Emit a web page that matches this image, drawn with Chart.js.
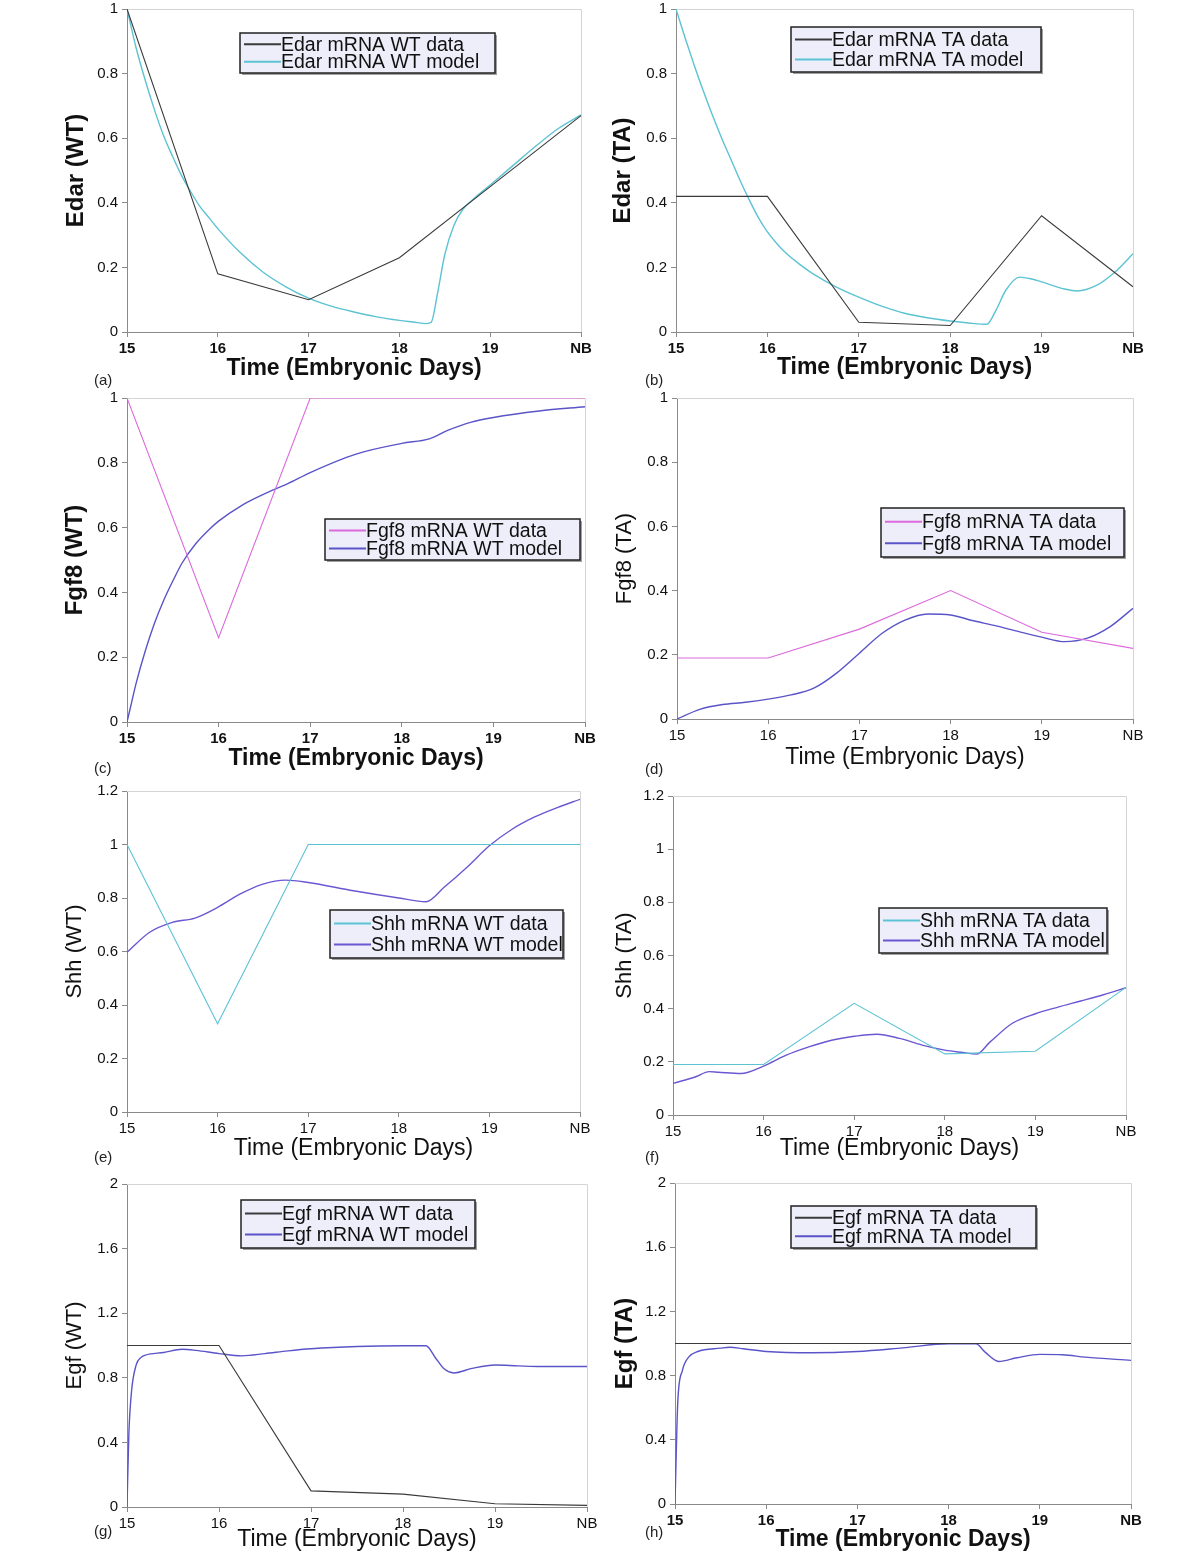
<!DOCTYPE html>
<html>
<head>
<meta charset="utf-8">
<script src="https://cdn.jsdelivr.net/npm/chart.js@4.4.1/dist/chart.umd.min.js"></script>
<style>
  body { margin: 0; background: #fff; width: 1200px; height: 1553px; position: relative; overflow: hidden; font-family: "Liberation Sans", Arial, sans-serif; }
  canvas { position: absolute; }
  .tag { position: absolute; font-size: 15px; color: #222; line-height: 15px; }
</style>
</head>
<body>
<script>
// measured days (15..19 embryonic, 20 = newborn)
const dataDays = [15, 16, 17, 18, 19, 20];

const edarWtData = [1, 0.18, 0.10, 0.23, 0.45, 0.67];
const edarWtModelT = [15, 15.1, 15.2, 15.3, 15.4, 15.5, 15.6, 15.7, 15.8, 15.9, 16, 16.25, 16.5, 16.75, 17, 17.25, 17.5, 17.75, 18, 18.15, 18.3, 18.35, 18.42, 18.5, 18.6, 18.7, 18.85, 19, 19.25, 19.5, 19.75, 20];
const edarWtModel = [1, 0.88, 0.78, 0.69, 0.61, 0.545, 0.485, 0.435, 0.39, 0.355, 0.32, 0.245, 0.185, 0.14, 0.105, 0.08, 0.062, 0.047, 0.036, 0.031, 0.026, 0.03, 0.12, 0.24, 0.33, 0.38, 0.42, 0.455, 0.515, 0.575, 0.63, 0.672];

const edarTaData = [0.42, 0.42, 0.03, 0.02, 0.36, 0.14];
const edarTaModelT = [15, 15.1, 15.2, 15.3, 15.4, 15.5, 15.6, 15.7, 15.8, 15.9, 16, 16.1, 16.2, 16.35, 16.5, 16.75, 17, 17.25, 17.5, 17.75, 18, 18.2, 18.4, 18.5, 18.61, 18.76, 18.88, 19, 19.25, 19.39, 19.6, 19.8, 20];
const edarTaModel = [1, 0.91, 0.825, 0.745, 0.67, 0.60, 0.535, 0.47, 0.41, 0.355, 0.31, 0.275, 0.245, 0.21, 0.18, 0.14, 0.108, 0.08, 0.058, 0.044, 0.034, 0.028, 0.024, 0.067, 0.13, 0.17, 0.165, 0.155, 0.133, 0.127, 0.144, 0.185, 0.242];

const fgf8WtData = [1, 0.26, 1, 1, 1, 1];
const fgf8WtModelT = [15, 15.05, 15.1, 15.2, 15.3, 15.4, 15.5, 15.6, 15.75, 15.9, 16, 16.25, 16.5, 16.75, 17, 17.5, 18, 18.3, 18.5, 18.75, 19, 19.5, 20];
const fgf8WtModel = [0, 0.06, 0.12, 0.22, 0.305, 0.375, 0.435, 0.49, 0.55, 0.595, 0.62, 0.668, 0.704, 0.735, 0.77, 0.827, 0.86, 0.874, 0.9, 0.925, 0.94, 0.96, 0.973];

const fgf8TaData = [0.19, 0.19, 0.28, 0.40, 0.27, 0.22];
const fgf8TaModelT = [15, 15.25, 15.5, 15.75, 16, 16.25, 16.5, 16.75, 17, 17.25, 17.5, 17.75, 18, 18.25, 18.5, 18.75, 19, 19.25, 19.5, 19.75, 20];
const fgf8TaModel = [0, 0.03, 0.045, 0.052, 0.062, 0.075, 0.096, 0.143, 0.205, 0.267, 0.308, 0.327, 0.324, 0.306, 0.29, 0.272, 0.255, 0.241, 0.252, 0.288, 0.345];

const shhWtData = [1, 0.33, 1, 1, 1, 1];
const shhWtModelT = [15, 15.25, 15.5, 15.75, 16, 16.25, 16.5, 16.75, 17, 17.5, 18, 18.3, 18.5, 18.75, 19, 19.25, 19.5, 19.75, 20];
const shhWtModel = [0.597, 0.672, 0.709, 0.725, 0.765, 0.815, 0.852, 0.867, 0.858, 0.827, 0.8, 0.786, 0.84, 0.914, 0.995, 1.057, 1.103, 1.138, 1.169];

const shhTaData = [0.19, 0.19, 0.42, 0.23, 0.24, 0.48];
const shhTaModelT = [15, 15.25, 15.4, 15.5, 15.75, 16, 16.25, 16.5, 16.75, 17, 17.25, 17.5, 17.75, 18, 18.2, 18.35, 18.5, 18.75, 19, 19.25, 19.5, 19.75, 20];
const shhTaModel = [0.119, 0.144, 0.163, 0.161, 0.156, 0.184, 0.225, 0.256, 0.281, 0.296, 0.304, 0.288, 0.263, 0.244, 0.235, 0.229, 0.275, 0.346, 0.381, 0.406, 0.429, 0.4525, 0.479];

const egfWtData = [1, 1, 0.1, 0.08, 0.02, 0.01];
const egfWtModelT = [15, 15.02, 15.05, 15.1, 15.15, 15.2, 15.4, 15.6, 15.75, 16, 16.25, 16.5, 16.75, 17, 17.5, 18, 18.25, 18.35, 18.45, 18.55, 18.75, 19, 19.25, 19.5, 20];
const egfWtModel = [0, 0.45, 0.72, 0.88, 0.925, 0.94, 0.957, 0.977, 0.97, 0.95, 0.936, 0.95, 0.967, 0.98, 0.994, 0.998, 0.998, 0.926, 0.854, 0.83, 0.858, 0.879, 0.874, 0.87, 0.87];

const egfTaData = [1, 1, 1, 1, 1, 1];
const egfTaModelT = [15, 15.03, 15.08, 15.15, 15.25, 15.5, 15.6, 15.75, 16, 16.5, 17, 17.5, 18, 18.3, 18.4, 18.55, 18.75, 19, 19.25, 19.5, 20];
const egfTaModel = [0, 0.63, 0.83, 0.915, 0.95, 0.971, 0.977, 0.967, 0.95, 0.942, 0.95, 0.973, 0.998, 0.998, 0.946, 0.888, 0.911, 0.932, 0.93, 0.915, 0.895];

const FONT = '"Liberation Sans", Arial, sans-serif';
const BLACK = '#3a3a3a';
const CYAN = '#5cc3d3';
const MAGENTA = '#dc6adc';
const BLUE = '#5a54c8';
const PURPLE = '#6a58d2';

function pair(xs, ys) {
  return xs.map((x, i) => ({ x: x, y: ys[i] }));
}

// plot = [left, top, right, bottom] of the plotting area on the page
const panels = [
  { tag: '(a)', tagPos: [94, 372], yTitle: 'Edar (WT)', bold: true, yMax: 1, yStep: 0.2,
    plot: [127, 8, 581, 332], yTitleX: 76, xTitleY: 368, legend: [240, 33, 495, 73],
    series: [['Edar mRNA WT data', dataDays, edarWtData, BLACK, false],
             ['Edar mRNA WT model', edarWtModelT, edarWtModel, CYAN, true]] },
  { tag: '(b)', tagPos: [645, 372], yTitle: 'Edar (TA)', bold: true, yMax: 1, yStep: 0.2,
    plot: [676, 8, 1133, 332], yTitleX: 623, xTitleY: 367, legend: [791, 27, 1041, 72],
    series: [['Edar mRNA TA data', dataDays, edarTaData, BLACK, false],
             ['Edar mRNA TA model', edarTaModelT, edarTaModel, CYAN, true]] },
  { tag: '(c)', tagPos: [94, 760], yTitle: 'Fgf8 (WT)', bold: true, yMax: 1, yStep: 0.2,
    plot: [127, 397, 585, 722], yTitleX: 75, xTitleY: 758, legend: [325, 519, 580, 560],
    series: [['Fgf8 mRNA WT data', dataDays, fgf8WtData, MAGENTA, false],
             ['Fgf8 mRNA WT model', fgf8WtModelT, fgf8WtModel, BLUE, true]] },
  { tag: '(d)', tagPos: [645, 761], yTitle: 'Fgf8 (TA)', bold: false, yMax: 1, yStep: 0.2,
    plot: [677, 397, 1133, 719], yTitleX: 625, xTitleY: 757, legend: [881, 508, 1124, 557],
    series: [['Fgf8 mRNA TA data', dataDays, fgf8TaData, MAGENTA, false],
             ['Fgf8 mRNA TA model', fgf8TaModelT, fgf8TaModel, BLUE, true]] },
  { tag: '(e)', tagPos: [94, 1149], yTitle: 'Shh (WT)', bold: false, yMax: 1.2, yStep: 0.2,
    plot: [127, 790, 580, 1112], yTitleX: 75, xTitleY: 1148, legend: [330, 910, 563, 958],
    series: [['Shh mRNA WT data', dataDays, shhWtData, CYAN, false],
             ['Shh mRNA WT model', shhWtModelT, shhWtModel, PURPLE, true]] },
  { tag: '(f)', tagPos: [645, 1149], yTitle: 'Shh (TA)', bold: false, yMax: 1.2, yStep: 0.2,
    plot: [673, 795, 1126, 1115], yTitleX: 625, xTitleY: 1148, legend: [879, 908, 1107, 953],
    series: [['Shh mRNA TA data', dataDays, shhTaData, CYAN, false],
             ['Shh mRNA TA model', shhTaModelT, shhTaModel, PURPLE, true]] },
  { tag: '(g)', tagPos: [94, 1523], yTitle: 'Egf (WT)', bold: false, yMax: 2, yStep: 0.4,
    plot: [127, 1183, 587, 1507], yTitleX: 75, xTitleY: 1540, legend: [241, 1200, 475, 1248],
    series: [['Egf mRNA WT data', dataDays, egfWtData, BLACK, false],
             ['Egf mRNA WT model', egfWtModelT, egfWtModel, BLUE, true]] },
  { tag: '(h)', tagPos: [645, 1524], yTitle: 'Egf (TA)', bold: true, yMax: 2, yStep: 0.4,
    plot: [675, 1182, 1131, 1504], yTitleX: 625, xTitleY: 1540, legend: [791, 1206, 1036, 1248],
    series: [['Egf mRNA TA data', dataDays, egfTaData, BLACK, false],
             ['Egf mRNA TA model', egfTaModelT, egfTaModel, BLUE, true]] }
];

// light grey top/right frame of the plot area
const framePlugin = {
  id: 'frame',
  beforeDatasetsDraw(chart) {
    const a = chart.chartArea, ctx = chart.ctx;
    ctx.save();
    ctx.strokeStyle = '#d4d4d4';
    ctx.lineWidth = 1;
    ctx.beginPath();
    ctx.moveTo(a.left, a.top + 0.5);
    ctx.lineTo(a.right + 0.5, a.top + 0.5);
    ctx.lineTo(a.right + 0.5, a.bottom);
    ctx.stroke();
    ctx.restore();
  }
};

// boxed legend placed inside the plot
const boxLegendPlugin = {
  id: 'boxLegend',
  afterDraw(chart, args, opts) {
    const ctx = chart.ctx;
    const [x1, y1, x2, y2] = opts.box;
    const w = x2 - x1, h = y2 - y1;
    ctx.save();
    ctx.fillStyle = '#a0a0a0';
    ctx.fillRect(x1 + 2, y1 + 2, w, h);
    ctx.fillStyle = '#eeeefa';
    ctx.fillRect(x1, y1, w, h);
    ctx.strokeStyle = '#222';
    ctx.lineWidth = 1.5;
    ctx.strokeRect(x1, y1, w, h);
    ctx.font = '19.5px ' + FONT;
    ctx.textBaseline = 'middle';
    chart.data.datasets.forEach((ds, i) => {
      const yy = y1 + h * (i === 0 ? 0.28 : 0.72);
      ctx.strokeStyle = ds.borderColor;
      ctx.lineWidth = 2;
      ctx.beginPath();
      ctx.moveTo(x1 + 4, yy);
      ctx.lineTo(x1 + 41, yy);
      ctx.stroke();
      ctx.fillStyle = '#111';
      ctx.fillText(ds.label, x1 + 41, yy + 1);
    });
    ctx.restore();
  }
};

panels.forEach(p => {
  const ySize = p.bold ? 24 : 22;
  const xSize = 23;
  const weight = p.bold ? 'bold' : 'normal';
  const cl = Math.round(p.yTitleX - ySize * 0.6);
  const ct = p.plot[1] - 12;
  const cr = p.plot[2] + 25;
  const cb = Math.min(1553, Math.round(p.xTitleY + xSize * 0.6));

  const canvas = document.createElement('canvas');
  canvas.width = cr - cl;
  canvas.height = cb - ct;
  canvas.style.left = cl + 'px';
  canvas.style.top = ct + 'px';
  document.body.appendChild(canvas);

  const tag = document.createElement('div');
  tag.className = 'tag';
  tag.textContent = p.tag;
  tag.style.left = p.tagPos[0] + 'px';
  tag.style.top = p.tagPos[1] + 'px';
  document.body.appendChild(tag);

  const datasets = p.series.map(s => ({
    label: s[0],
    data: pair(s[1], s[2]),
    borderColor: s[3],
    borderWidth: s[4] ? 1.4 : 1.1,
    pointRadius: 0,
    fill: false,
    tension: 0,
    cubicInterpolationMode: s[4] ? 'monotone' : 'default'
  }));

  new Chart(canvas, {
    type: 'line',
    data: { datasets: datasets },
    plugins: [framePlugin, boxLegendPlugin],
    options: {
      responsive: false,
      animation: false,
      devicePixelRatio: 1,
      layout: { padding: { top: 12, right: 25, left: 0, bottom: 0 } },
      plugins: {
        legend: { display: false },
        tooltip: { enabled: false },
        boxLegend: { box: [p.legend[0] - cl, p.legend[1] - ct, p.legend[2] - cl, p.legend[3] - ct] }
      },
      scales: {
        x: {
          type: 'linear', min: 15, max: 20,
          afterFit: s => { s.height = cb - p.plot[3]; },
          ticks: {
            stepSize: 1, autoSkip: false, maxRotation: 0, padding: 3, color: '#111',
            font: { family: FONT, size: 15, weight: weight },
            callback: v => v === 20 ? 'NB' : String(v)
          },
          grid: { drawOnChartArea: false, tickLength: 5, color: '#8a8a8a' },
          border: { color: '#8a8a8a' },
          title: { display: true, text: 'Time (Embryonic Days)', color: '#111', padding: 0,
                   font: { family: FONT, size: xSize, weight: weight } }
        },
        y: {
          type: 'linear', min: 0, max: p.yMax,
          afterFit: s => { s.width = p.plot[0] - cl; },
          ticks: {
            stepSize: p.yStep, padding: 4, color: '#111', font: { family: FONT, size: 15 },
            callback: v => String(Number(v.toFixed(2)))
          },
          grid: { drawOnChartArea: false, tickLength: 5, color: '#8a8a8a' },
          border: { color: '#8a8a8a' },
          title: { display: true, text: p.yTitle, color: '#111', padding: 0,
                   font: { family: FONT, size: ySize, weight: weight } }
        }
      }
    }
  });
});
</script>
</body>
</html>
